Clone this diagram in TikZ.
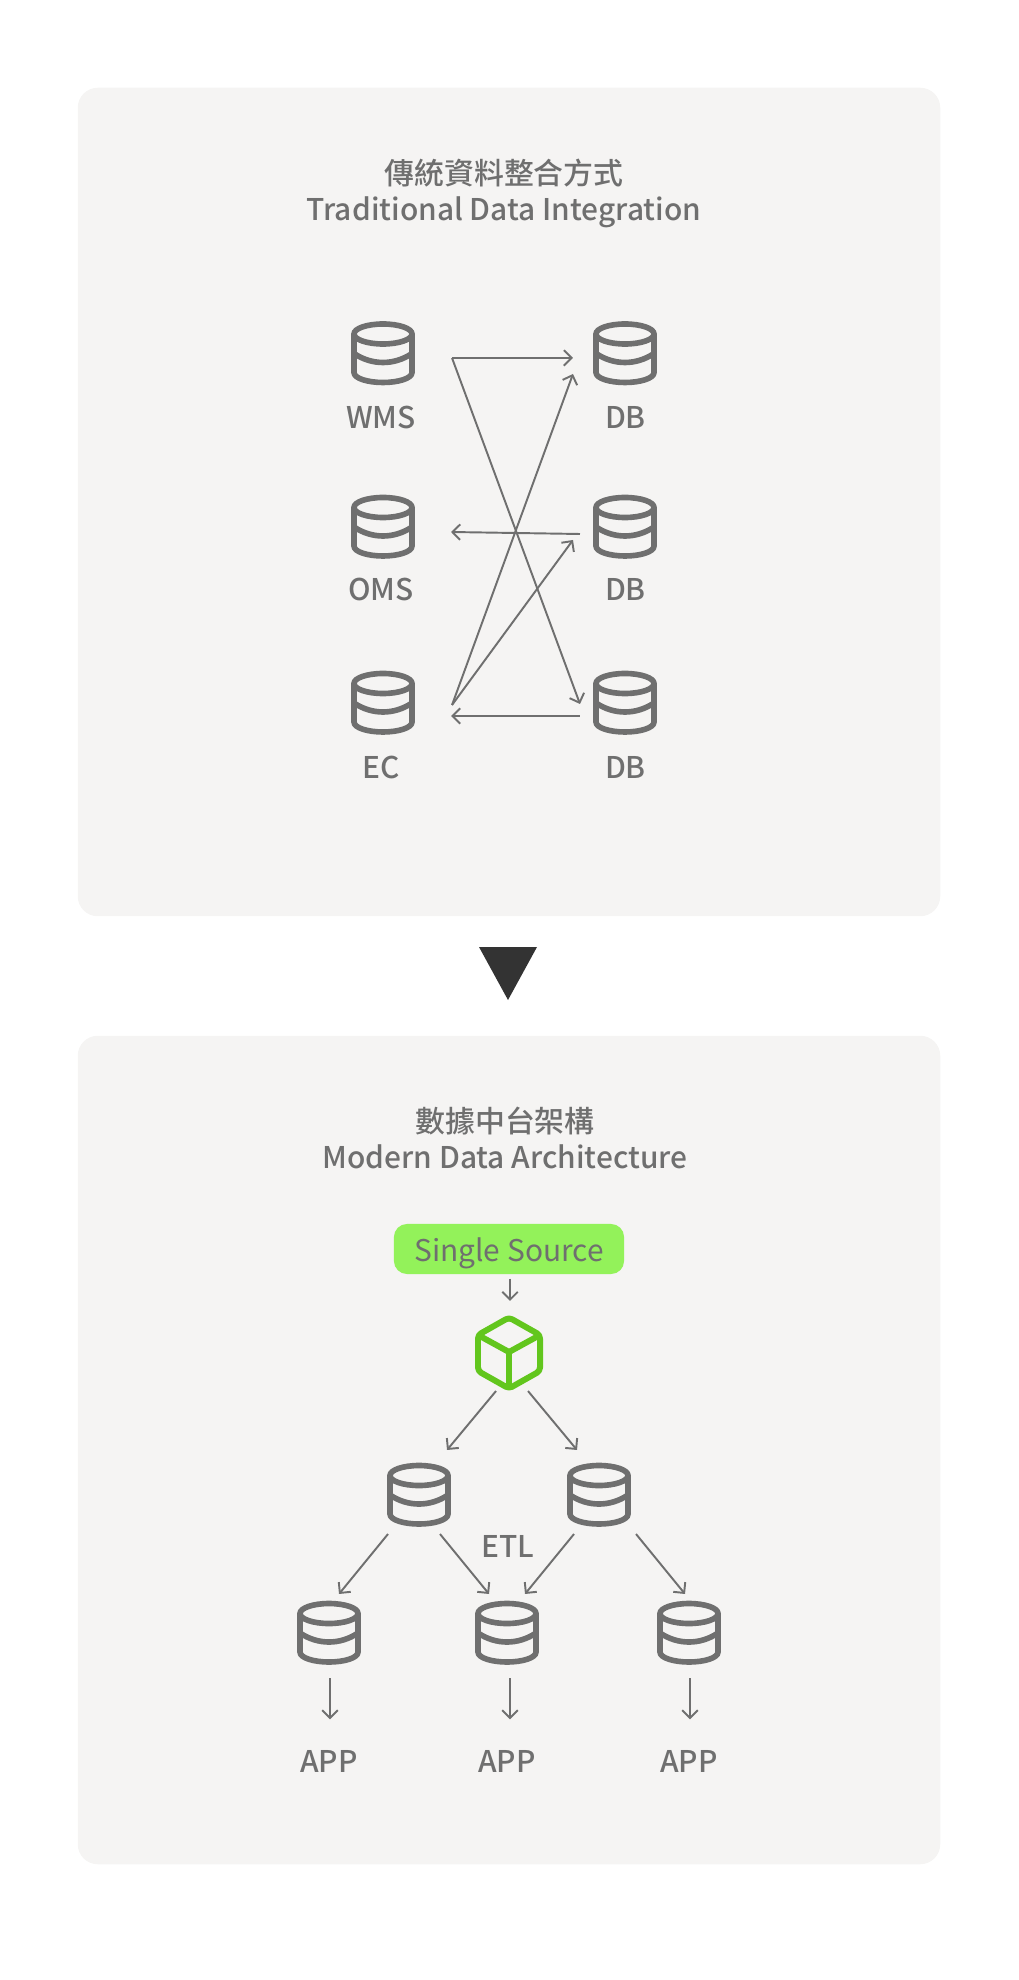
\documentclass[tikz,border=0pt]{standalone}
\usepackage{fontspec}
\setmainfont{Noto Sans CJK TC Medium}
\newfontfamily\sourcefont{Noto Sans CJK TC}
\usetikzlibrary{arrows.meta}
\definecolor{ink}{HTML}{6F6F6F}
\definecolor{panelbg}{HTML}{F5F4F3}
\definecolor{lime}{HTML}{93F25A}
\definecolor{cubegreen}{HTML}{62C61D}
\definecolor{darktri}{HTML}{333333}
\begin{document}
\begin{tikzpicture}[x=0.01cm, y=-0.01cm,
  panel/.style={fill=panelbg, rounded corners=0.2cm, minimum width=8.62cm, minimum height=8.28cm, inner sep=0pt},
  title/.style={text=ink, align=center, font=\fontsize{8.5}{10.2}\selectfont, inner sep=0pt},
  label/.style={text=ink, anchor=base, font=\fontsize{8.5}{10.3}\selectfont, inner sep=0pt},
  link/.style={draw=ink, line width=0.55pt, -{Straight Barb[length=2.2pt,width=4.4pt]}},
  dbicon/.style={minimum width=0.66cm, minimum height=0.66cm, inner sep=0pt, outer sep=0pt,
    path picture={
      \begin{scope}[shift={(path picture bounding box.center)}, draw=ink, line width=1.6pt]
        \draw (0,-19.5) ellipse [x radius=29, y radius=10];
        \draw (-29,-19.5) -- (-29,19) .. controls (-29,25) and (-15,29) .. (0,29) .. controls (15,29) and (29,25) .. (29,19) -- (29,-19.5);
        \draw (-29,0) .. controls (-20,6) and (-10,9) .. (0,9) .. controls (10,9) and (20,6) .. (29,0);
      \end{scope}
    }},
  cubeicon/.style={minimum width=0.72cm, minimum height=0.80cm, inner sep=0pt, outer sep=0pt,
    path picture={
      \begin{scope}[shift={(path picture bounding box.center)}, draw=cubegreen, line width=1.7pt, line join=round]
        \draw[rounded corners=1pt] (0,-35.5) -- (31,-18) -- (31,18) -- (0,35.5) -- (-31,18) -- (-31,-18) -- cycle;
        \draw (-31,-18) -- (0,-1) -- (31,-18);
        \draw (0,-1) -- (0,35.5);
      \end{scope}
    }}]
\useasboundingbox (0,0) rectangle (1018,1980);

\node[panel] (trad) at (509,502) {};
\node[panel] (modern) at (509,1450) {};
\fill[darktri] (479,947) -- (537,947) -- (508,1000) -- cycle;

\node[title] (tradtitle) at (504,193.5) {傳統資料整合方式\\Traditional Data Integration};
\node[title] (moderntitle) at (505,1138) {數據中台架構\\Modern Data Architecture};

\node[dbicon] (WMS) at (383,353.5) {};
\node[dbicon] (OMS) at (383,527) {};
\node[dbicon] (EC) at (383,703) {};
\node[dbicon] (DBa) at (625,353.5) {};
\node[dbicon] (DBb) at (625,527) {};
\node[dbicon] (DBc) at (625,703) {};

\node[label] (WMSlabel) at (381,429) {WMS};
\node[label] (OMSlabel) at (381,600.5) {OMS};
\node[label] (EClabel) at (381.5,778) {EC};
\node[label] (DBalabel) at (625.5,429) {DB};
\node[label] (DBblabel) at (625.5,600.5) {DB};
\node[label] (DBclabel) at (625.5,778) {DB};

\draw[link] ([shift={(36,4.5)}]WMS.east) -- ([shift={(-19,4.5)}]DBa.west);
\draw[link] ([shift={(36,4.5)}]WMS.east) -- ([shift={(-12,1)}]DBc.west);
\draw[link] ([shift={(36,2)}]EC.east) -- ([shift={(-19,20.5)}]DBa.west);
\draw[link] ([shift={(36,2)}]EC.east) -- ([shift={(-19,13)}]DBb.west);
\draw[link] ([shift={(-12,7)}]DBb.west) -- ([shift={(35,5)}]OMS.east);
\draw[link] ([shift={(-12,13)}]DBc.west) -- ([shift={(35,13)}]EC.east);

\node[fill=lime, rounded corners=0.13cm, minimum width=2.30cm, minimum height=0.50cm, inner sep=0pt] (source) at (509,1249) {};
\node[label, font=\sourcefont\fontsize{8.5}{10.3}\selectfont] (sourcelabel) at (509,1261) {Single Source};
\node[cubeicon] (cube) at (509,1353) {};

\node[dbicon] (ETLa) at (419,1495) {};
\node[dbicon] (ETLb) at (599,1495) {};
\node[label] (ETL) at (507.5,1557.5) {ETL};
\node[dbicon] (Marta) at (329,1633) {};
\node[dbicon] (Martb) at (507,1633) {};
\node[dbicon] (Martc) at (689,1633) {};
\node[label] (APPa) at (329,1772) {APP};
\node[label] (APPb) at (507,1772) {APP};
\node[label] (APPc) at (689,1772) {APP};

\draw[link] ([shift={(1,4)}]source.south) -- ([shift={(1,-12)}]cube.north);
\draw[link] ([shift={(-13,-2)}]cube.south) -- ([shift={(28,-12)}]ETLa.north);
\draw[link] ([shift={(19,-2)}]cube.south) -- ([shift={(-22,-12)}]ETLb.north);
\draw[link] ([shift={(-31,6)}]ETLa.south) -- ([shift={(10,-6)}]Marta.north);
\draw[link] ([shift={(21,6)}]ETLa.south) -- ([shift={(-18,-6)}]Martb.north);
\draw[link] ([shift={(-25,6)}]ETLb.south) -- ([shift={(18,-6)}]Martb.north);
\draw[link] ([shift={(37,6)}]ETLb.south) -- ([shift={(-4,-6)}]Martc.north);
\draw[link] ([shift={(1,12)}]Marta.south) -- ([shift={(1,-30)}]APPa.north);
\draw[link] ([shift={(3,12)}]Martb.south) -- ([shift={(3,-30)}]APPb.north);
\draw[link] ([shift={(1,12)}]Martc.south) -- ([shift={(1,-30)}]APPc.north);
\end{tikzpicture}
\end{document}
